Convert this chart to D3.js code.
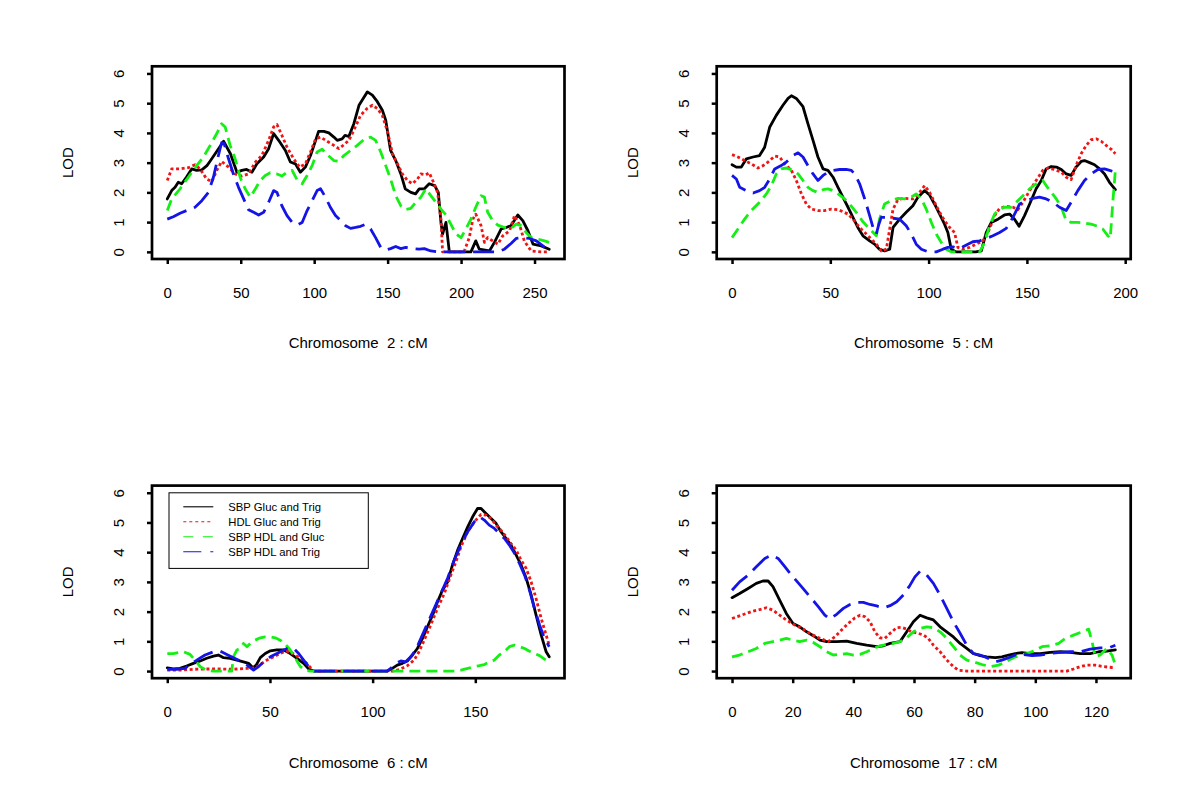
<!DOCTYPE html>
<html><head><meta charset="utf-8">
<script src="https://cdn.jsdelivr.net/npm/d3@7"></script>
<style>body{margin:0;background:#fff} svg{display:block}</style>
</head><body>
<svg id="chart" width="1200" height="809"></svg>
<script>
// ---------- data ----------
const seriesNames = ["SBP Gluc and Trig", "HDL Gluc and Trig", "SBP HDL and Gluc", "SBP HDL and Trig"];
const chromosomes = ["2", "5", "6", "17"];
const yTicks = [0, 1, 2, 3, 4, 5, 6];
const chr2Ticks = [0, 50, 100, 150, 200, 250];
const chr5Ticks = [0, 50, 100, 150, 200];
const chr6Ticks = [0, 50, 100, 150];
const chr17Ticks = [0, 20, 40, 60, 80, 100, 120];

// Chromosome 2 : [cM, LOD]
const chr2SbpGlucTrig = [[0,1.78],[3,2.06],[5.3,2.17],[7.5,2.34],[9.8,2.29],[13,2.51],[16.6,2.79],[20,2.74],[23.5,2.76],[27,2.9],[29,3.04],[32.6,3.3],[38.3,3.72],[43,3.3],[47.4,2.68],[50.8,2.74],[54,2.77],[57.6,2.68],[61,2.96],[65.6,3.19],[69,3.47],[72.4,3.98],[75.8,3.75],[80.4,3.41],[83.8,3.02],[87.2,2.96],[90.6,2.68],[94,2.85],[97.5,3.24],[101,3.75],[103,4.05],[106.6,4.05],[110,4.0],[113.4,3.86],[115.7,3.75],[119,3.8],[121,3.92],[123.6,3.88],[127,4.31],[130.5,4.93],[134,5.21],[136.2,5.38],[139.6,5.27],[143,5.05],[146.4,4.76],[148.7,4.43],[152,3.41],[155.5,3.07],[159,2.62],[162,2.12],[165.8,2.0],[169,1.95],[171.5,2.12],[175,2.12],[178.3,2.29],[182,2.23],[184.5,2.0],[186.3,0.99],[187.4,0.6],[189.7,0.99],[192,0],[206.7,0],[210,0.37],[212.4,0.09],[219.3,0.03],[222.7,0.32],[227.3,0.77],[230.7,0.82],[234,0.88],[238.6,1.24],[242,1.05],[245.5,0.71],[249,0.26],[254.6,0.2],[260,0.09]];
const chr2HdlGlucTrig = [[0,2.4],[3,2.79],[8.7,2.79],[14.3,2.83],[18.9,2.93],[22.3,2.79],[26.8,2.45],[30.3,2.36],[33.7,2.74],[37,3.04],[41.7,2.85],[46.2,2.62],[50.8,2.55],[55.3,2.62],[60,3.02],[64.4,3.24],[69,3.75],[72.4,4.2],[74.7,4.28],[78,3.92],[81.5,3.52],[86,3.13],[90.1,2.85],[94,2.96],[97.5,3.36],[101,3.8],[104.3,3.86],[108.8,3.72],[113.4,3.58],[116.8,3.47],[120.2,3.6],[123.6,3.75],[127,4.09],[131.6,4.59],[136,4.82],[139.6,4.93],[143,4.82],[146.4,4.59],[150,4.03],[153.3,3.3],[156.7,2.96],[160,2.62],[163.5,2.4],[166.9,2.29],[170.3,2.45],[172.6,2.62],[176,2.59],[178.3,2.66],[181.7,2.29],[184,2.0],[186.3,1.1],[187.4,0],[202,0],[205.6,0.48],[208,1.1],[210,1.27],[213.6,0.88],[215.9,0.32],[218.1,0.48],[221.5,0.37],[225,0.26],[228.4,0.54],[233,0.71],[236.4,1.22],[240,0.88],[243,0.37],[247.7,0.03],[254.6,0],[260,0]];
const chr2SbpHdlGluc = [[0,1.39],[3,1.78],[8.7,2.12],[14.3,2.51],[20,2.9],[24.6,3.19],[29.2,3.58],[33.7,3.98],[37,4.31],[39.4,4.2],[42.8,3.58],[46.2,3.13],[49.6,2.51],[53,2.12],[56.5,1.84],[60,2.12],[63.3,2.4],[66.7,2.57],[70.1,2.66],[74.7,2.62],[78,2.55],[81.5,2.68],[85,2.74],[88.3,2.43],[91.8,2.29],[95.2,2.57],[98.6,2.9],[102,3.36],[105.4,3.45],[108.8,3.27],[113.4,3.07],[116.8,3.04],[120.2,3.24],[124.8,3.41],[129.3,3.58],[134,3.78],[138.4,3.86],[141.8,3.75],[145.3,3.36],[148.7,2.9],[152,2.45],[155.5,1.89],[159,1.55],[162.3,1.42],[165.8,1.46],[169.2,1.67],[172.6,1.84],[176,2.12],[179.4,1.89],[182.8,1.67],[186.3,1.44],[189.7,1.24],[193,0.93],[196.5,0.6],[200,0.48],[203.3,0.77],[206.7,1.1],[210,1.5],[213.6,1.89],[215.9,1.84],[218.1,1.33],[221.5,1.05],[225,0.9],[229.5,0.82],[234,0.79],[237.5,0.93],[241,0.88],[244.3,0.65],[247.7,0.48],[252.3,0.43],[256.8,0.37],[260,0.32]];
const chr2SbpHdlTrig = [[0,1.1],[4.1,1.18],[8.7,1.3],[13.2,1.39],[18.9,1.5],[23.5,1.72],[28,2.0],[31.4,2.51],[34.8,3.24],[37,3.67],[38.7,3.64],[41.7,3.13],[45,2.62],[48.5,2.17],[52,1.78],[55.3,1.42],[58.8,1.33],[62.2,1.24],[65.6,1.33],[69,1.67],[72.4,2.06],[74.7,2.0],[78,1.55],[81.5,1.22],[85,0.99],[88.3,0.9],[91.8,0.99],[95.2,1.39],[98.6,1.72],[102,2.06],[104.3,2.12],[107.7,1.84],[111,1.5],[114.5,1.22],[118,1.05],[121.4,0.88],[124.8,0.79],[128.2,0.82],[131.6,0.86],[135,0.93],[138.4,0.77],[141.8,0.48],[145.3,0.15],[148.7,0.06],[152,0.11],[155.5,0.18],[159,0.11],[162.3,0.15],[166.9,0.11],[171.5,0.09],[175,0.11],[179.4,0.03],[184,0],[225,0],[229.5,0.09],[234,0.28],[237.5,0.45],[242,0.48],[246.6,0.45],[251.2,0.37],[255.7,0.2],[260,0.03]];

// Chromosome 5
const chr5SbpGlucTrig = [[0,2.93],[2.2,2.85],[4.7,2.85],[7.3,3.13],[10.7,3.19],[14,3.24],[16.6,3.52],[19.2,4.2],[22.5,4.59],[25.9,4.93],[28.5,5.16],[30.2,5.25],[32.7,5.16],[36.1,4.88],[38.6,4.31],[41.2,3.75],[43.7,3.19],[46.3,2.79],[48.8,2.74],[51.4,2.51],[53.9,2.17],[56.4,1.84],[59,1.5],[61.5,1.16],[64,0.82],[66.6,0.54],[70,0.37],[72.5,0.26],[75,0.09],[77.6,0.03],[80.2,0.09],[81.9,0.82],[85.3,1.1],[88.6,1.33],[92,1.55],[94.6,1.84],[98,2.06],[100.5,1.91],[103,1.61],[105.6,1.27],[108.1,0.93],[109.8,0.65],[111.5,0.09],[114,0],[124,0],[126.8,0.03],[129.3,0.65],[131.9,0.99],[135.3,1.1],[138.6,1.24],[141.2,1.27],[143.7,1.1],[146,0.86],[148.8,1.22],[151.4,1.61],[154.7,2.12],[157.3,2.4],[159.8,2.79],[162.4,2.87],[165,2.85],[167.5,2.77],[170,2.62],[172.5,2.57],[175,2.85],[177.6,3.04],[179.3,3.07],[181.9,3.0],[184.4,2.93],[187,2.79],[189.5,2.62],[192,2.34],[195,2.09]];
const chr5HdlGlucTrig = [[0,3.27],[3,3.19],[6.4,3.07],[9.8,2.96],[13.2,2.82],[15.8,2.9],[18.3,3.02],[21.7,3.22],[24.2,3.19],[26.8,2.96],[30.2,2.74],[32.7,2.4],[35.3,1.95],[37.8,1.61],[40.3,1.44],[43.7,1.39],[47.1,1.39],[50.5,1.44],[53.9,1.42],[56.4,1.35],[59,1.27],[61.5,1.1],[64.9,0.82],[68.3,0.6],[70.8,0.43],[73.4,0.26],[75.9,0.03],[78.5,0.09],[80.2,0.77],[81.9,1.44],[84.4,1.76],[87.8,1.8],[92,1.78],[95.4,2.0],[98,2.23],[100.5,2.0],[103,1.67],[105.6,1.33],[108.1,1.05],[110.7,0.82],[113.2,0.65],[114.9,0.15],[117.5,0.09],[120.8,0.15],[124.2,0.26],[127.6,0.37],[130.2,0.65],[133.6,1.22],[136.1,1.46],[139.5,1.53],[142.9,1.5],[145.4,1.42],[148,1.67],[151.4,2.06],[154.7,2.4],[158.1,2.74],[160.7,2.82],[164,2.77],[167.5,2.68],[170,2.51],[172.5,2.43],[175,2.9],[177.6,3.3],[180.2,3.58],[182.7,3.77],[185.3,3.8],[187.8,3.72],[190.3,3.58],[192.9,3.45],[195,3.3]];
const chr5SbpHdlGluc = [[0,0.48],[3,0.77],[6.4,1.1],[9.8,1.39],[14,1.67],[17.5,1.95],[20,2.23],[22.5,2.62],[25,2.79],[27.6,2.82],[31,2.74],[33.6,2.62],[36.1,2.4],[38.6,2.17],[41.2,2.06],[43.7,2.0],[46.3,2.09],[48.8,2.12],[51.4,2.06],[53.9,1.95],[57.3,1.78],[59.8,1.61],[63.2,1.33],[66.6,1.01],[70,0.77],[73.4,0.54],[75,1.1],[77.6,1.61],[81,1.72],[84.4,1.8],[87.8,1.78],[91.2,1.84],[93.7,1.95],[96.3,1.78],[98.8,1.44],[101.4,0.99],[103.9,0.6],[106.4,0.32],[109,0.09],[111.5,0],[126,0],[128.5,0.32],[131,0.88],[133.6,1.27],[136.1,1.44],[138.6,1.5],[142,1.5],[144.6,1.67],[148,1.89],[151.4,2.12],[154.7,2.29],[158.1,2.4],[159.8,2.23],[162.4,2.0],[165,1.78],[167.5,1.5],[170,1.05],[172.5,0.99],[175.9,0.99],[179.3,0.97],[182.7,0.93],[186.1,0.86],[188.6,0.77],[191.2,0.54],[192.4,0.45],[193.7,1.67],[195,2.74]];
const chr5SbpHdlTrig = [[0,2.57],[2.2,2.45],[3.9,2.17],[7.3,2.06],[10.7,1.98],[14,2.06],[16.6,2.17],[19.2,2.45],[21.7,2.79],[25,2.9],[27.6,3.02],[31,3.24],[33.6,3.33],[36.1,3.19],[38.6,2.9],[41.2,2.62],[43.7,2.4],[46.3,2.57],[48.8,2.68],[51.4,2.74],[54.7,2.77],[58.1,2.77],[60.7,2.74],[62.4,2.62],[64.9,2.29],[67.5,1.78],[70,1.22],[71.7,0.82],[73.4,0.6],[74.7,0.93],[75.9,1.16],[78.5,1.16],[81.9,1.13],[85.3,1.1],[88.6,0.88],[91.2,0.6],[93.7,0.26],[96.3,0.09],[99.7,0],[103.9,0],[107.3,0.09],[109.8,0.15],[112.4,0.17],[115.8,0.11],[119.2,0.23],[122.5,0.34],[126,0.37],[129.3,0.45],[132.7,0.54],[136.1,0.65],[139.5,0.79],[142.9,1.16],[146.3,1.61],[149.7,1.72],[153,1.8],[156.4,1.84],[159.8,1.78],[163.2,1.67],[166.6,1.5],[170,1.39],[172.5,1.67],[175.9,2.06],[179.3,2.4],[182.7,2.62],[186.1,2.77],[189.5,2.79],[192,2.74],[195,2.68]];

// Chromosome 6
const chr6SbpGlucTrig = [[0,0.11],[2.9,0.07],[6.2,0.09],[9.4,0.17],[12.7,0.26],[16,0.34],[19.2,0.43],[22.5,0.5],[24.9,0.54],[27.4,0.45],[30.6,0.43],[33.9,0.37],[37.1,0.31],[39.6,0.26],[41.7,0.11],[43.3,0.2],[45.3,0.45],[47.7,0.59],[50.2,0.68],[53.4,0.71],[56.7,0.71],[59.9,0.59],[63.2,0.43],[66.4,0.26],[68.9,0.07],[71.3,0],[107.2,0],[109.6,0.09],[112,0.2],[114.5,0.26],[116.9,0.34],[119.4,0.54],[121.8,0.76],[124.3,1.1],[126.7,1.49],[129.2,1.88],[131.6,2.33],[134,2.72],[136.5,3.0],[138.9,3.57],[141.4,4.07],[143.8,4.46],[146.3,4.85],[148.7,5.19],[151.1,5.47],[152.8,5.47],[155.2,5.3],[157.7,5.13],[160.1,4.97],[162.5,4.69],[165,4.46],[167.4,4.24],[169.9,3.9],[172.3,3.57],[174.8,3.12],[177.2,2.56],[179.6,1.88],[182.1,1.21],[184.5,0.65],[186,0.48]];
const chr6HdlGlucTrig = [[0,0.03],[6.2,0.03],[12.7,0.06],[19.2,0.07],[25.7,0.07],[32.2,0.06],[38.8,0.09],[42.8,0.11],[45.3,0.22],[48.5,0.37],[51.8,0.48],[55,0.59],[57.5,0.67],[59.9,0.65],[63.2,0.5],[66.4,0.37],[68.9,0.18],[71.3,0],[110.4,0],[113.7,0.07],[116.9,0.18],[120.2,0.37],[122.6,0.65],[125.1,1.04],[128.3,1.55],[131.6,2.11],[134.9,2.61],[138.1,3.23],[140.6,3.68],[143,4.18],[146.3,4.69],[149.5,5.02],[152.8,5.27],[155.2,5.25],[157.7,5.13],[160.1,4.91],[162.5,4.74],[165,4.52],[167.4,4.29],[169.9,4.07],[172.3,3.73],[174.8,3.45],[177.2,3.0],[179.6,2.44],[182.1,1.77],[184.5,1.21],[186,0.87]];
const chr6SbpHdlGluc = [[0,0.59],[2.9,0.59],[7.8,0.65],[11.1,0.56],[13.5,0.37],[16,0.15],[19.2,0.02],[22.5,0],[31.4,0],[32.2,0.48],[33.9,0.71],[35.5,0.76],[37.1,0.93],[38.8,0.82],[40.4,0.93],[42.8,1.04],[45.3,1.12],[47.7,1.15],[50.2,1.15],[52.6,1.12],[55,1.04],[57.5,0.9],[59.9,0.71],[62.4,0.43],[64.8,0.15],[67.3,0.03],[69.7,0],[140,0],[143,0.03],[146.3,0.09],[149.5,0.15],[152,0.18],[154.4,0.22],[156.8,0.31],[159.3,0.37],[161.7,0.54],[164.2,0.65],[166.6,0.82],[169.1,0.87],[171.5,0.82],[174,0.76],[176.4,0.67],[178.8,0.59],[181.3,0.52],[183.7,0.4],[186,0.33]];
const chr6SbpHdlTrig = [[0,0.06],[4.6,0.06],[8.6,0.09],[11.9,0.26],[15.1,0.4],[18.4,0.54],[22.5,0.65],[25.7,0.67],[29,0.56],[32.2,0.45],[35.5,0.34],[38.8,0.2],[42,0.03],[44.5,0.15],[46.9,0.31],[50.2,0.48],[53.4,0.59],[56.7,0.71],[59.1,0.78],[61.6,0.76],[64,0.59],[66.4,0.37],[68.9,0.15],[71.3,0],[107,0],[108.8,0.09],[111.2,0.26],[113.7,0.34],[116.1,0.31],[118.6,0.48],[121,0.71],[123.5,1.1],[126.7,1.6],[130,2.11],[133.2,2.61],[136.5,3.12],[139.7,3.73],[143,4.24],[146.3,4.69],[149.5,5.02],[152,5.19],[154.4,5.08],[156.8,4.91],[159.3,4.8],[161.7,4.63],[164.2,4.46],[166.6,4.24],[169.1,3.96],[171.5,3.62],[174,3.23],[176.4,2.72],[178.8,2.11],[181.3,1.55],[183.7,1.1],[186,0.82]];

// Chromosome 17
const chr17SbpGlucTrig = [[0,2.47],[2.5,2.61],[5.3,2.78],[8,2.95],[10.2,3.03],[11.9,3.03],[13.5,2.84],[15.7,2.39],[17.9,1.94],[20.1,1.6],[22.3,1.49],[24.6,1.32],[26.8,1.19],[29,1.04],[31.2,0.99],[34.5,0.99],[37.8,1.01],[41.1,0.93],[44.4,0.87],[47.7,0.82],[49.9,0.85],[52.1,0.93],[55.4,0.99],[57.6,1.32],[59.8,1.66],[62,1.88],[64.2,1.79],[66.4,1.72],[68.6,1.49],[70.8,1.32],[73,1.15],[75.2,0.93],[77.4,0.76],[79.6,0.59],[81.8,0.52],[84,0.48],[86.8,0.45],[89,0.48],[91.2,0.54],[93.4,0.59],[95.6,0.62],[98.3,0.59],[101.6,0.59],[104.9,0.63],[108.2,0.65],[111.5,0.63],[114.8,0.59],[118.1,0.59],[120.9,0.65],[123.6,0.67],[126.4,0.71]];
const chr17HdlGlucTrig = [[0,1.77],[3.1,1.88],[6.4,2.0],[9.1,2.07],[11.3,2.13],[13.5,2.05],[15.7,1.88],[17.9,1.72],[20.7,1.55],[23.5,1.41],[26.2,1.23],[29,1.1],[31.7,0.99],[33.9,1.15],[36.1,1.38],[38.3,1.6],[40.5,1.79],[42.2,1.88],[43.8,1.83],[45.5,1.66],[47.1,1.32],[48.8,1.12],[50.4,1.1],[52.1,1.27],[54.3,1.46],[55.9,1.47],[57.6,1.41],[59.2,1.32],[61.4,1.27],[63.1,1.21],[64.7,1.1],[66.4,0.87],[68.6,0.65],[70.8,0.37],[73,0.15],[74.6,0.03],[77.4,0],[110.4,0],[112.6,0.07],[114.8,0.15],[117,0.2],[119.8,0.2],[122.5,0.15],[125.3,0.12],[126.4,0.12]];
const chr17SbpHdlGluc = [[0,0.48],[2.5,0.54],[5.3,0.65],[8,0.76],[10.8,0.93],[13.5,0.99],[15.7,1.04],[17.9,1.1],[20.1,1.04],[22.3,0.99],[24.6,1.04],[26.8,0.96],[29,0.82],[31.2,0.65],[33.4,0.54],[35.6,0.56],[37.8,0.59],[40,0.54],[42.2,0.56],[44.4,0.65],[46.6,0.76],[48.8,0.85],[51,0.9],[53.2,0.93],[55.4,0.99],[57.6,1.12],[59.8,1.32],[62,1.43],[64.2,1.49],[66.4,1.46],[68.6,1.32],[70.8,1.1],[73,0.82],[75.2,0.54],[77.4,0.37],[79.6,0.31],[82.4,0.22],[85.1,0.15],[87.9,0.2],[90.1,0.31],[92.8,0.45],[95,0.54],[97.2,0.59],[99.4,0.67],[102.2,0.82],[104.9,0.85],[107.7,0.93],[109.9,1.1],[112.6,1.21],[115.4,1.32],[117.6,1.41],[118.7,0.99],[119.8,0.48],[121.4,0.54],[123.6,0.76],[125.3,0.54],[126.4,0.2]];
const chr17SbpHdlTrig = [[0,2.72],[2.5,3.0],[5.3,3.23],[8,3.51],[10.8,3.79],[13,3.9],[15.2,3.79],[17.4,3.51],[20.1,3.17],[22.9,2.84],[25.7,2.5],[28.5,2.16],[30.6,1.88],[32.3,1.75],[34.5,1.91],[36.7,2.11],[38.9,2.24],[41.1,2.31],[43.3,2.31],[45.5,2.24],[47.7,2.19],[49.9,2.13],[52.1,2.2],[54.3,2.33],[56.5,2.56],[58.7,2.89],[60.3,3.17],[62,3.36],[64.2,3.23],[66.4,2.95],[68.6,2.56],[70.8,2.11],[73,1.66],[75.2,1.27],[77.4,0.87],[79.6,0.59],[81.8,0.54],[84,0.45],[86.8,0.31],[89,0.37],[91.2,0.45],[93.4,0.54],[96.1,0.56],[98.9,0.52],[101.6,0.54],[104.9,0.59],[108.2,0.63],[111.5,0.65],[114.8,0.65],[118.1,0.74],[121.4,0.78],[124.2,0.78],[126.4,0.87]];

// ---------- styles / layout ----------
const seriesColors = ["#000000", "#f01414", "#14f014", "#1414e6"];
const seriesDash = [null, "3,2.6", "11,6", "21,8"];
const legendDash = [null, "3,3", "10,9.5", "18,9"];
const FONT = "'Liberation Sans', Arial, Helvetica, sans-serif";

const panels = [
  {chrom: chromosomes[0], ticks: chr2Ticks, data: [chr2SbpGlucTrig, chr2HdlGlucTrig, chr2SbpHdlGluc, chr2SbpHdlTrig], box: [152, 564.5, 66.3, 259], legend: false},
  {chrom: chromosomes[1], ticks: chr5Ticks, data: [chr5SbpGlucTrig, chr5HdlGlucTrig, chr5SbpHdlGluc, chr5SbpHdlTrig], box: [716.7, 1130.7, 66.3, 259], legend: false},
  {chrom: chromosomes[2], ticks: chr6Ticks, data: [chr6SbpGlucTrig, chr6HdlGlucTrig, chr6SbpHdlGluc, chr6SbpHdlTrig], box: [152, 564.5, 485.6, 678.2], legend: true},
  {chrom: chromosomes[3], ticks: chr17Ticks, data: [chr17SbpGlucTrig, chr17HdlGlucTrig, chr17SbpHdlGluc, chr17SbpHdlTrig], box: [716.7, 1130.7, 485.6, 678.2], legend: false}
];

const svg = d3.select("#chart");
svg.append("rect").attr("width", 1200).attr("height", 809).attr("fill", "#fff");

panels.forEach((p, pi) => {
  const [L, R, T, B] = p.box;
  const all = p.data.flat();
  const xr = d3.extent(all, d => d[0]);
  const xpad = (xr[1] - xr[0]) * 0.04;
  const x = d3.scaleLinear().domain([xr[0] - xpad, xr[1] + xpad]).range([L, R]);
  const y = d3.scaleLinear().domain([-0.24, 6.24]).range([B, T]);

  const g = svg.append("g");
  const clipId = "clip" + pi;
  g.append("clipPath").attr("id", clipId).append("rect")
    .attr("x", L).attr("y", T).attr("width", R - L).attr("height", B - T);

  const line = d3.line().x(d => x(d[0])).y(d => y(d[1]));
  const lg = g.append("g").attr("clip-path", `url(#${clipId})`);
  p.data.forEach((s, si) => {
    lg.append("path").datum(s).attr("d", line)
      .attr("fill", "none").attr("stroke", seriesColors[si])
      .attr("stroke-width", 2.8)
      .attr("stroke-linejoin", "round")
      .attr("stroke-linecap", si === 0 ? "round" : "butt")
      .attr("stroke-dasharray", seriesDash[si]);
  });

  // x axis
  const xa = g.append("g").attr("transform", `translate(0,${B})`)
    .call(d3.axisBottom(x).tickValues(p.ticks).tickSize(5).tickSizeOuter(0).tickPadding(23.5).tickFormat(d3.format("d")));
  xa.select(".domain").remove();
  xa.selectAll(".tick line").attr("stroke", "#000").attr("stroke-width", 2.5);
  xa.selectAll(".tick text").attr("font-family", FONT).attr("font-size", 15).attr("fill", "#000");

  // y axis
  const ya = g.append("g").attr("transform", `translate(${L},0)`)
    .call(d3.axisLeft(y).tickValues(yTicks).tickSize(5).tickSizeOuter(0).tickFormat(d3.format("d")));
  ya.select(".domain").remove();
  ya.selectAll(".tick line").attr("stroke", "#000").attr("stroke-width", 2.5);
  ya.selectAll(".tick text")
    .attr("x", null).attr("dy", null)
    .attr("transform", "translate(-33,0) rotate(-90)")
    .attr("dy", "0.36em")
    .attr("text-anchor", "middle")
    .attr("font-family", FONT).attr("font-size", 15).attr("fill", "#000");

  // box
  g.append("rect").attr("x", L).attr("y", T).attr("width", R - L).attr("height", B - T)
    .attr("fill", "none").attr("stroke", "#000").attr("stroke-width", 2.7);

  // titles
  g.append("text").attr("x", (L + R) / 2).attr("y", B + 84).attr("dy", "0.36em")
    .attr("text-anchor", "middle").attr("font-family", FONT).attr("font-size", 15)
    .text(`Chromosome  ${p.chrom} : cM`).style("white-space", "pre");
  g.append("text").attr("transform", `translate(${L - 84},${(T + B) / 2}) rotate(-90)`)
    .attr("dy", "0.36em").attr("text-anchor", "middle").attr("font-family", FONT).attr("font-size", 15)
    .text("LOD");

  if (p.legend) {
    const lx = L + 17, ly = T + 7.2;
    const leg = g.append("g");
    leg.append("rect").attr("x", lx).attr("y", ly).attr("width", 199.3).attr("height", 75.6)
      .attr("fill", "#fff").attr("stroke", "#000").attr("stroke-width", 1);
    seriesNames.forEach((name, i) => {
      const ry = ly + 14 + i * 15;
      leg.append("line").attr("x1", lx + 14.3).attr("x2", lx + 44.3).attr("y1", ry).attr("y2", ry)
        .attr("stroke", seriesColors[i]).attr("stroke-width", 1.1)
        .attr("stroke-dasharray", legendDash[i]);
      leg.append("text").attr("x", lx + 59.3).attr("y", ry).attr("dy", "0.36em")
        .attr("font-family", FONT).attr("font-size", 11.3).text(name);
    });
  }
});
</script>
</body></html>
